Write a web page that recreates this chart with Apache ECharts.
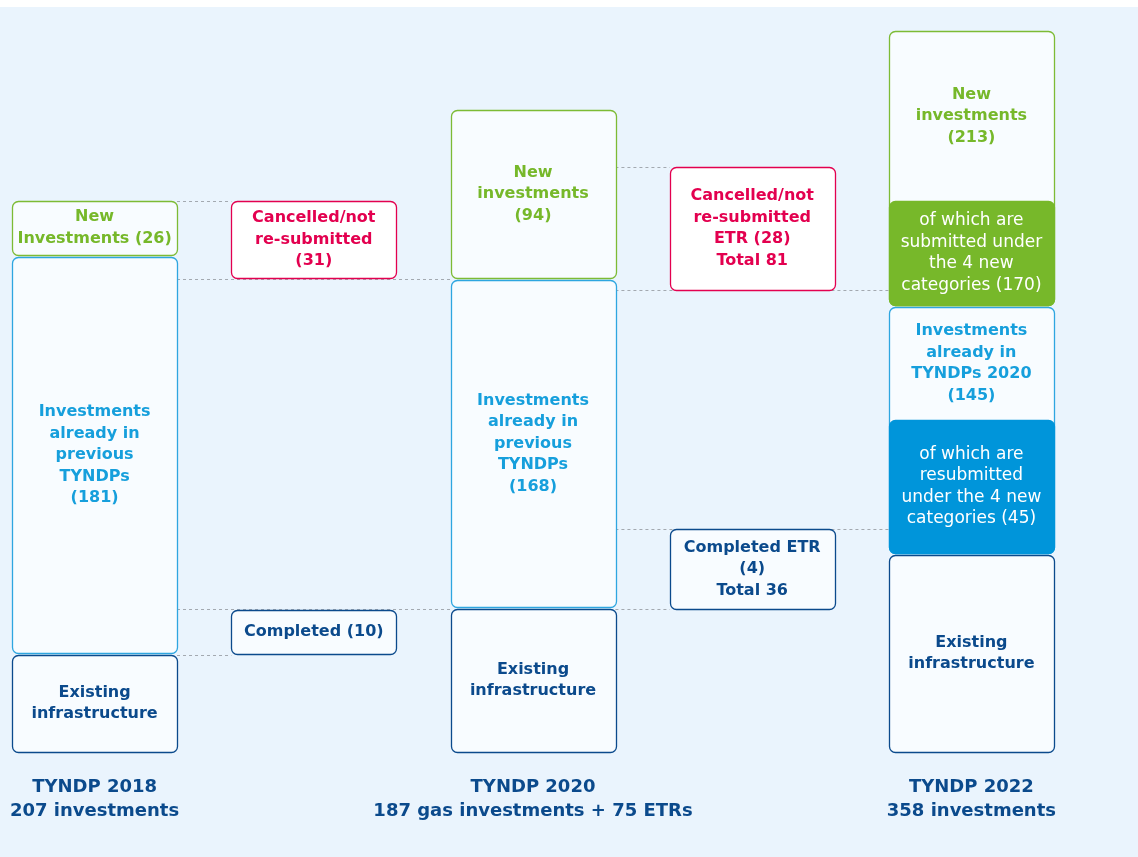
<!DOCTYPE html>
<html>
<head>
<meta charset="utf-8">
<title>TYNDP investments</title>
<script src="https://cdn.jsdelivr.net/npm/echarts@6/dist/echarts.min.js"></script>
<style>
  html, body { margin: 0; padding: 0; background: #ffffff; }
  #chart { position: absolute; left: 0; top: 7px; width: 1138px; height: 850px; }
</style>
</head>
<body>
<div id="chart"></div>
<script>
// x axis columns (the gaps between editions hold the flows)
const editions = ['TYNDP 2018', '', 'TYNDP 2020', '', 'TYNDP 2022']
const editionTotals = ['207 investments', '', '187 gas investments + 75 ETRs', '', '358 investments']

// blocks: column, bottom/top on the hidden y axis, text, kind
const blockColumn = [0, 0, 0, 1, 1, 2, 2, 2, 3, 3, 4, 4, 4, 4, 4]
const blockBottom = [0, 99, 497, 474, 98, 0, 145, 474, 462, 143, 0, 199, 199, 447, 447]
const blockTop = [97, 495, 551, 551, 142, 143, 472, 642, 585, 223, 197, 445, 332, 721, 551]
const blockText = [
  'Existing\ninfrastructure',
  'Investments\nalready in\nprevious\nTYNDPs\n(181)',
  'New\nInvestments (26)',
  'Cancelled/not\nre-submitted\n(31)',
  'Completed (10)',
  'Existing\ninfrastructure',
  'Investments\nalready in\nprevious\nTYNDPs\n(168)',
  'New\ninvestments\n(94)',
  'Cancelled/not\nre-submitted\nETR (28)\nTotal 81',
  'Completed ETR\n(4)\nTotal 36',
  'Existing\ninfrastructure',
  'Investments\nalready in\nTYNDPs 2020\n(145)',
  'of which are\nresubmitted\nunder the 4 new\ncategories (45)',
  'New\ninvestments\n(213)',
  'of which are\nsubmitted under\nthe 4 new\ncategories (170)',
]
const blockKind = [
  'existing', 'previous', 'new', 'cancelled', 'completed',
  'existing', 'previous', 'new', 'cancelled', 'completed',
  'existing', 'previous', 'previousSub', 'new', 'newSub',
]

// dashed links: from column, to column, level
const linkFrom = [0, 0, 0, 0, 2, 2, 2, 2]
const linkTo = [1, 2, 2, 1, 3, 4, 4, 3]
const linkLevel = [551, 473, 143, 97, 585, 462, 223, 143]

const darkBlue = '#0b4a8c'
const looks = {
  existing: { fill: '#f8fcff', stroke: darkBlue, color: darkBlue, bold: true },
  completed: { fill: '#f8fcff', stroke: darkBlue, color: darkBlue, bold: true },
  previous: { fill: '#f8fcff', stroke: '#2ea6e0', color: '#169fdc', bold: true },
  new: { fill: '#f8fcff', stroke: '#7dbb35', color: '#76b82a', bold: true },
  cancelled: { fill: '#ffffff', stroke: '#e3004f', color: '#e3004f', bold: true },
  previousSub: { fill: '#0095da', stroke: '#0095da', color: '#ffffff', bold: false },
  newSub: { fill: '#77b82a', stroke: '#77b82a', color: '#ffffff', bold: false },
}

// text of a parent block sits above its filled sub block
const textLow = blockBottom.map((b, i) => {
  const sub = blockKind.findIndex((k, j) => j !== i && k.endsWith('Sub') && blockColumn[j] === blockColumn[i] && blockBottom[j] === b)
  return sub >= 0 && !blockKind[i].endsWith('Sub') ? blockTop[sub] : b
})

const blockData = blockColumn.map((c, i) => [c, blockBottom[i], blockTop[i], textLow[i], i])
const linkData = linkFrom.map((f, i) => [f, linkTo[i], linkLevel[i]])

const renderBlock = (params, api) => {
  const i = api.value(4)
  const look = looks[blockKind[i]]
  const half = api.size([1, 0])[0] * 0.376
  const top = api.coord([api.value(0), api.value(2)])
  const bottom = api.coord([api.value(0), api.value(1)])
  const mid = api.coord([api.value(0), (api.value(2) + api.value(3)) / 2])
  return {
    type: 'group',
    children: [
      {
        type: 'rect',
        shape: { x: Math.round(top[0] - half) + 0.5, y: Math.round(top[1]) + 0.5, width: Math.round(half * 2), height: Math.round(bottom[1] - top[1]), r: 6 },
        style: { fill: look.fill, stroke: look.stroke, lineWidth: 1.3 },
      },
      {
        type: 'text',
        style: {
          text: blockText[i],
          x: top[0],
          y: mid[1],
          align: 'center',
          verticalAlign: 'middle',
          fill: look.color,
          fontFamily: 'DejaVu Sans',
          fontWeight: look.bold ? 'bold' : 'normal',
          fontSize: look.bold ? 16 : 17,
          lineHeight: 21.5,
        },
      },
    ],
  }
}

const renderLink = (params, api) => {
  const half = api.size([1, 0])[0] * 0.376
  const a = api.coord([api.value(0), api.value(2)])
  const b = api.coord([api.value(1), api.value(2)])
  const y = Math.round(a[1]) + 0.5
  return {
    type: 'line',
    shape: { x1: a[0] + half, y1: y, x2: b[0] - half, y2: y },
    style: { stroke: '#a3a9b0', lineWidth: 1, lineDash: [3, 3] },
  }
}

const option = {
  backgroundColor: '#eaf4fd',
  animation: false,
  grid: { left: -15, right: 57, top: 24, bottom: 105, outerBoundsMode: 'none', containLabel: false },
  xAxis: {
    type: 'category',
    data: editions,
    boundaryGap: true,
    axisLine: { show: false },
    axisTick: { show: false },
    splitLine: { show: false },
    axisLabel: {
      interval: 0,
      margin: 23,
      color: darkBlue,
      fontFamily: 'DejaVu Sans',
      fontWeight: 'bold',
      fontSize: 18,
      lineHeight: 24,
      formatter: (v, i) => (v ? v + '\n' + editionTotals[i] : ''),
    },
  },
  yAxis: { type: 'value', min: 0, max: 721, show: false },
  series: [
    { type: 'custom', name: 'links', data: linkData, renderItem: renderLink, encode: { x: [0, 1], y: 2 }, silent: true, clip: false, z: 1 },
    { type: 'custom', name: 'blocks', data: blockData, renderItem: renderBlock, encode: { x: 0, y: [1, 2] }, silent: true, clip: false, z: 2 },
  ],
}

const myChart = echarts.init(document.getElementById('chart'))
myChart.setOption(option, true)
</script>
</body>
</html>
